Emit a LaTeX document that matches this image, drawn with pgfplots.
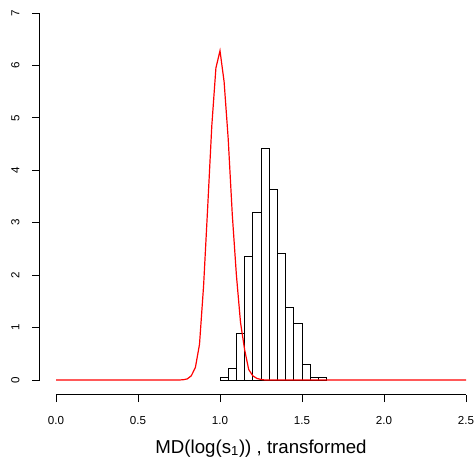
\documentclass[border=0pt]{standalone}
\usepackage{fontspec}
\setmainfont{Liberation Sans}
\usepackage{pgfplots}
\pgfplotsset{compat=1.18}
\begin{document}
\begin{tikzpicture}
\begin{axis}[
  x=123pt, y=39.32pt,
  anchor=origin, at={(42pt,60.75pt)},
  xmin=-0.1, xmax=2.6, ymin=-0.28, ymax=7.28,
  clip=false,
  axis x line*=bottom, axis y line*=left,
  axis line style={draw=none},
  tick align=outside,
  major tick length=5.6pt,
  tick style={black, line width=0.6pt},
  xtick={0,0.5,1,1.5,2,2.5},
  ytick={0,1,2,3,4,5,6,7},
  /pgf/number format/assume math mode=true,
  xticklabel style={yshift=-7pt, font=\fontsize{8.7}{10}\selectfont, /pgf/number format/.cd, fixed, fixed zerofill, precision=1},
  yticklabel style={xshift=-6pt, font=\fontsize{8.7}{10}\selectfont, rotate=90, anchor=south},
]
\draw[line width=0.6pt] (axis cs:0,-0.28) -- (axis cs:2.5,-0.28);
\draw[line width=0.6pt] (axis cs:-0.1,0) -- (axis cs:-0.1,7);
\addplot[ybar interval, draw=black, fill=none, line width=0.6pt] coordinates {
(1.00,0.05) (1.05,0.22) (1.10,0.89) (1.15,2.35) (1.20,3.19) (1.25,4.41)
(1.30,3.645) (1.35,2.42) (1.40,1.38) (1.45,1.08) (1.50,0.30) (1.55,0.057)
(1.60,0.057) (1.65,0)
};
\addplot[red, line width=0.9pt] coordinates {
(0,0) (0.25,0) (0.5,0) (0.7,0) (0.75,0) (0.775,0.005) (0.8,0.02) (0.825,0.08)
(0.85,0.24) (0.875,0.68) (0.9,1.8) (0.925,3.3) (0.95,4.85) (0.975,5.95)
(1.0,6.28) (1.025,5.69) (1.05,4.6) (1.075,3.15) (1.1,2.0) (1.125,1.1)
(1.15,0.58) (1.175,0.2) (1.2,0.08) (1.225,0.03) (1.25,0.01) (1.275,0)
(1.3,0) (1.5,0) (2,0) (2.5,0)
};
\end{axis}
\node[anchor=base, font=\fontsize{14}{16}\selectfont] at (195.75pt,6pt) {MD(log(s\textsubscript{1})) , transformed};
\pgfresetboundingbox
\path[use as bounding box] (0,0) rectangle (355.5pt,345.75pt);
\end{tikzpicture}
\end{document}
